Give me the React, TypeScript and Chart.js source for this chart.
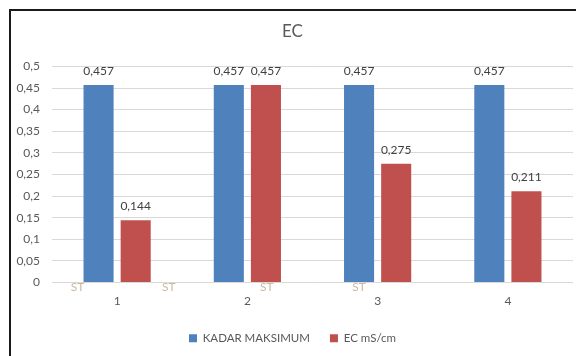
import React, { useEffect, useRef } from "react";
import { Chart, registerables } from "chart.js";

Chart.register(...registerables);

const categories = ["1", "2", "3", "4"];
const kadarMaksimum = [0.457, 0.457, 0.457, 0.457];
const ecValues = [0.144, 0.457, 0.275, 0.211];
const seriesNames = ["KADAR MAKSIMUM", "EC mS/cm"];
const yTicks = [0, 0.05, 0.1, 0.15, 0.2, 0.25, 0.3, 0.35, 0.4, 0.45, 0.5];
// stray "ST" text marks, positioned in category-axis units
const stPositions = [-0.304, 0.396, 1.15, 1.858];
const stText = "ST";

const fmt = (v: number) => String(v).replace(".", ",");
const FONT = "Lato, 'Liberation Sans', sans-serif";

export default function App() {
  const ref = useRef<HTMLCanvasElement | null>(null);

  useEffect(() => {
    if (!ref.current) return;
    const labelPlugin = {
      id: "labels",
      afterDatasetsDraw(chart: any) {
        const ctx = chart.ctx;
        ctx.save();
        ctx.font = `12px ${FONT}`;
        ctx.fillStyle = "#404040";
        ctx.textAlign = "center";
        ctx.textBaseline = "bottom";
        chart.data.datasets.forEach((ds: any, di: number) => {
          const meta = chart.getDatasetMeta(di);
          meta.data.forEach((bar: any, i: number) => {
            ctx.fillText(fmt(ds.data[i]), bar.x, bar.y - 8);
          });
        });
        const xs = chart.scales.x;
        const ys = chart.scales.y;
        ctx.fillStyle = "#cdb8a2";
        ctx.textBaseline = "middle";
        stPositions.forEach((p) => {
          ctx.fillText(stText, xs.getPixelForValue(p), ys.getPixelForValue(0) + 5);
        });
        ctx.restore();
      },
    };

    const chart = new Chart(ref.current, {
      type: "bar",
      data: {
        labels: categories,
        datasets: [
          { label: seriesNames[0], data: kadarMaksimum, backgroundColor: "#4F81BD" },
          { label: seriesNames[1], data: ecValues, backgroundColor: "#C0504D" },
        ],
      },
      options: {
        animation: false,
        responsive: false,
        events: [],
        layout: { padding: { left: 12, right: 3, top: 15, bottom: 2 } },
        datasets: { bar: { categoryPercentage: 0.57, barPercentage: 0.81 } } as any,
        scales: {
          x: {
            afterFit: (s: any) => { s.height = 30; },
            grid: { display: false, drawTicks: false },
            border: { display: false },
            ticks: { color: "#595959", font: { size: 12, family: FONT }, padding: 11 },
          },
          y: {
            min: 0,
            max: 0.5,
            afterFit: (s: any) => { s.width = 40; },
            afterBuildTicks: (s: any) => { s.ticks = yTicks.map((v) => ({ value: v })); },
            grid: { color: "#d9d9d9", drawTicks: false },
            border: { display: false },
            ticks: {
              color: "#595959",
              font: { size: 12, family: FONT },
              padding: 12,
              callback: (v: any) => fmt(Number(v)),
            },
          },
        },
        plugins: {
          title: {
            display: true,
            text: "EC",
            color: "#595959",
            font: { size: 17, family: FONT, weight: "normal" },
            padding: { top: 6, bottom: 25 },
          },
          legend: {
            position: "bottom",
            labels: {
              boxWidth: 8,
              boxHeight: 8,
              padding: 20,
              color: "#595959",
              font: { size: 11.5, family: FONT },
            },
          },
          tooltip: { enabled: false },
        },
      } as any,
      plugins: [labelPlugin],
    });
    return () => chart.destroy();
  }, []);

  return (
    <div style={{ position: "fixed", left: 0, top: 0, width: 576, height: 356, overflow: "hidden", background: "#fff" }}>
      <canvas ref={ref} width={576} height={356} style={{ position: "absolute", left: 0, top: 0 }} />
      <div
        style={{
          position: "absolute",
          left: 9,
          top: 9,
          width: 700,
          height: 500,
          borderLeft: "2px solid #1a1a1a",
          borderTop: "2px solid #1a1a1a",
          pointerEvents: "none",
        }}
      />
    </div>
  );
}
